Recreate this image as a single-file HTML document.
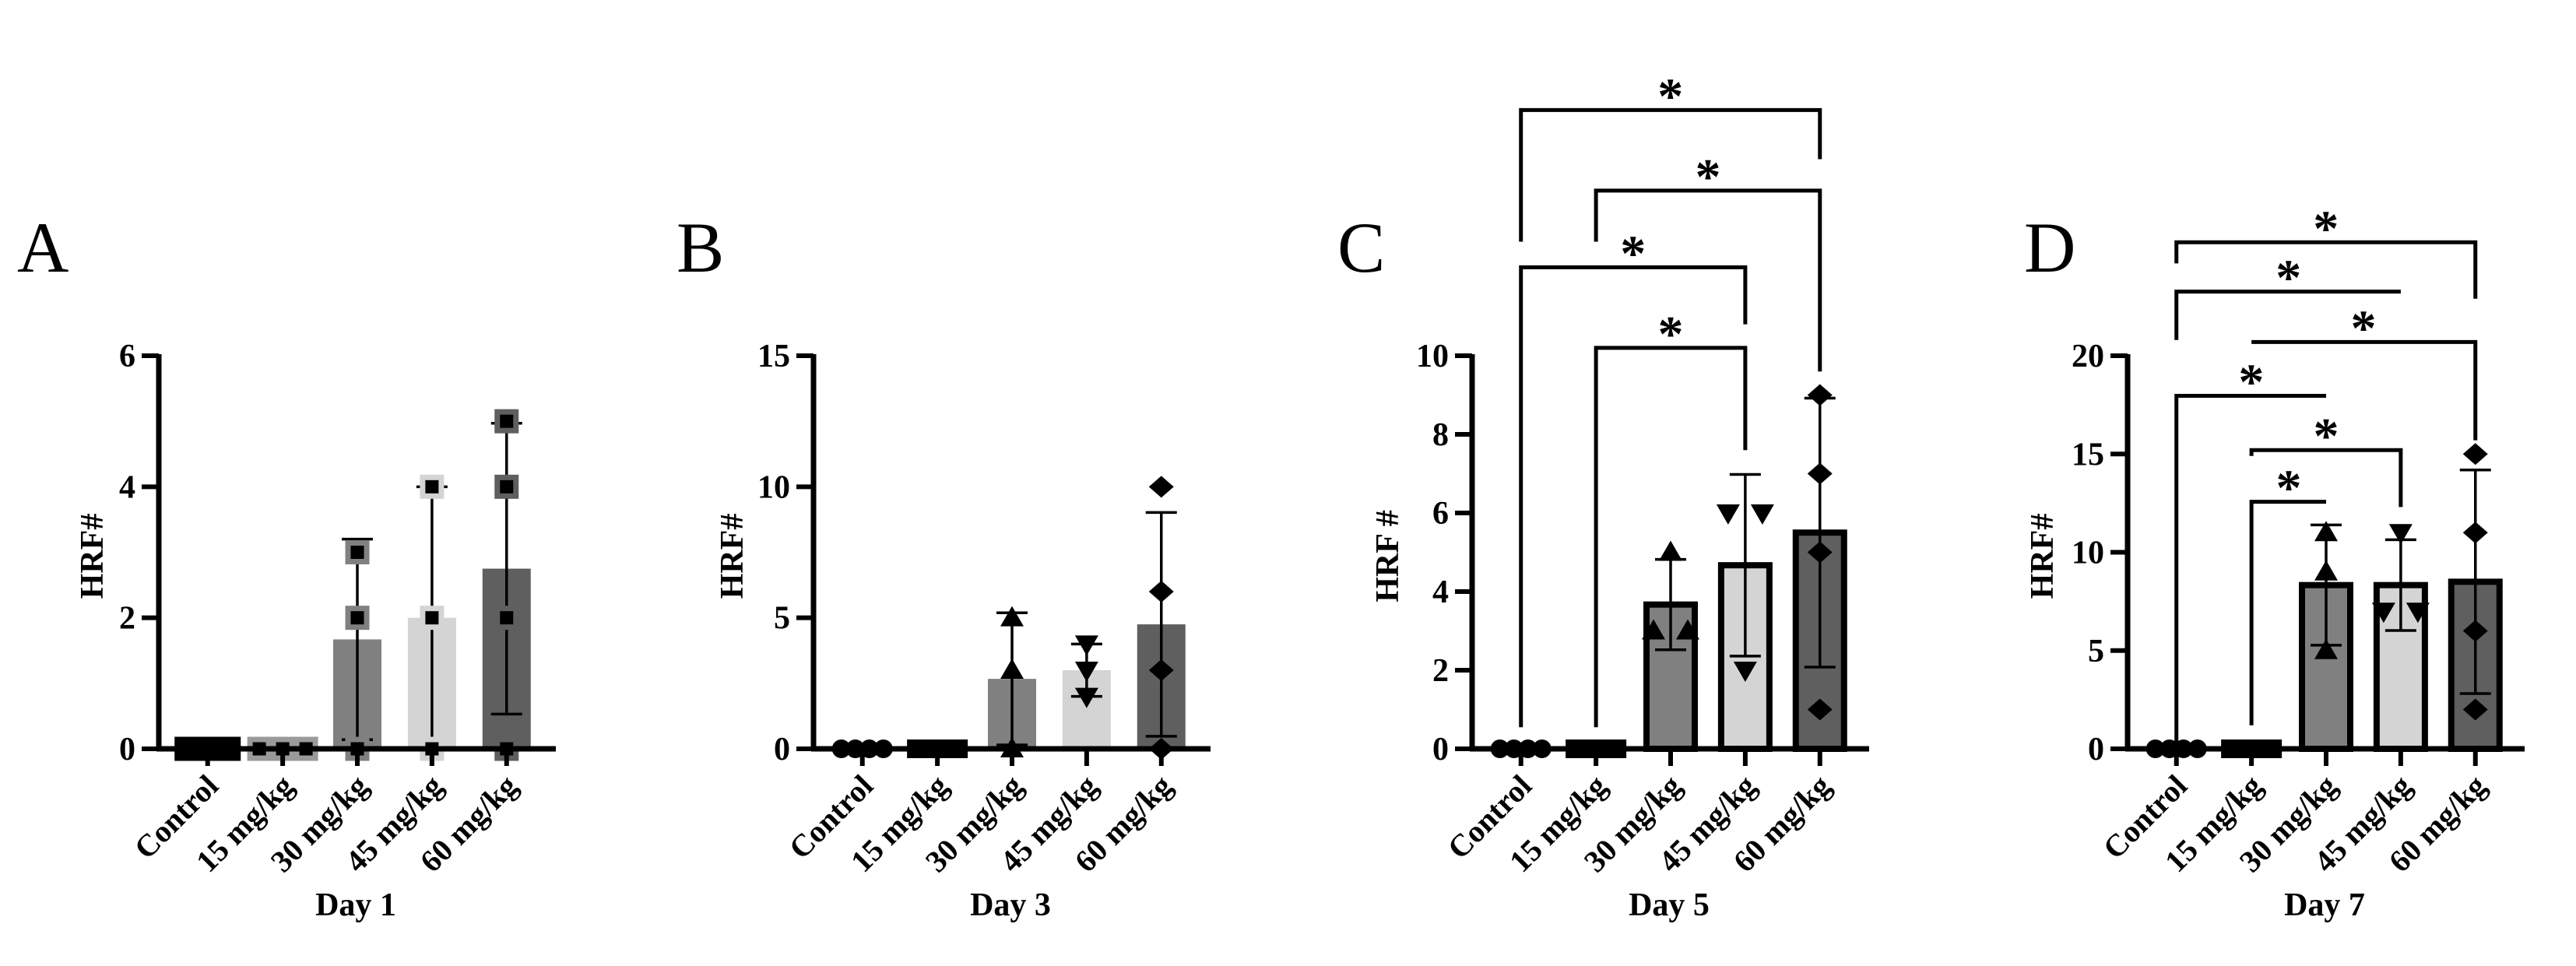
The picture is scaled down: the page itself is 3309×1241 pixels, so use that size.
<!DOCTYPE html>
<html><head><meta charset="utf-8"><style>
html,body{margin:0;padding:0;background:#fff}
svg{display:block}
text{font-family:"Liberation Serif",serif}
</style></head><body>
<svg id="fig" width="3309" height="1241" viewBox="0 0 3309 1241" xmlns="http://www.w3.org/2000/svg"></svg>
<script>
const categories = ["Control","15 mg/kg","30 mg/kg","45 mg/kg","60 mg/kg"];
const panelLetters = ["A","B","C","D"];
const dayLabels = ["Day 1","Day 3","Day 5","Day 7"];
const yMaxA = 6, yMaxB = 15, yMaxC = 10, yMaxD = 20;
const ticksA = [0,2,4,6];
const ticksB = [0,5,10,15];
const ticksC = [0,2,4,6,8,10];
const ticksD = [0,5,10,15,20];
const meansA = [0,0,1.67,2,2.75];
const sdA = [0,0,1.53,2,2.22];
const pointsA = [[0,0,0,0],[0,0,0],[0,2,3],[0,2,4],[0,2,4,5]];
const meansB = [0,0,2.67,3,4.75];
const sdB = [0,0,2.52,1,4.27];
const pointsB = [[0,0,0,0],[0,0,0,0],[0,3,5],[2,3,4],[0,3,6,10]];
const meansC = [0,0,3.67,4.67,5.5];
const sdC = [0,0,1.15,2.31,3.42];
const pointsC = [[0,0,0,0],[0,0,0,0],[3,3,5],[2,6,6],[1,5,7,9]];
const meansD = [0,0,8.33,8.33,8.5];
const sdD = [0,0,3.06,2.31,5.69];
const pointsD = [[0,0,0,0],[0,0,0,0],[5,9,11],[7,7,11],[2,6,11,15]];
// brackets: [fromIdx, toIdx, levelValue, leftLegBottom, rightLegBottom]
const bracketsC = [[0,4,16.25,12.9,15.0],[1,4,14.2,12.9,9.6],[0,3,12.25,0.55,10.8],[1,3,10.2,0.55,7.6]];
const bracketsD = [[0,4,25.77,24.7,22.9],[0,3,23.26,20.8,23.26],[1,4,20.7,20.7,15.7],[0,2,17.96,-0.7,17.96],[1,3,15.2,14.9,12.3],[1,2,12.57,1.2,12.57]];

const NS = "http://www.w3.org/2000/svg";
const svg = document.getElementById("fig");
function mk(tag, attrs, parent){const e=document.createElementNS(NS,tag);for(const k in attrs)e.setAttribute(k,attrs[k]);(parent||svg).appendChild(e);return e;}

const panels = [
 {ax:204, letterX:22, titleOff:86, ymax:yMaxA, ticks:ticksA, means:meansA, sd:sdA, pts:pointsA, outline:false, shapes:["sq","sq","sq","sq","sq"], br:[]},
 {ax:1045, letterX:869, titleOff:105, ymax:yMaxB, ticks:ticksB, means:meansB, sd:sdB, pts:pointsB, outline:false, shapes:["ci","sq","tu","td","di"], br:[]},
 {ax:1891, letterX:1718, titleOff:109, ymax:yMaxC, ticks:ticksC, means:meansC, sd:sdC, pts:pointsC, outline:true, shapes:["ci","sq","tu","td","di"], br:bracketsC},
 {ax:2733, letterX:2600, titleOff:110, ymax:yMaxD, ticks:ticksD, means:meansD, sd:sdD, pts:pointsD, outline:true, shapes:["ci","sq","tu","td","di"], br:bracketsD}
];
const colors = ["#000000","#9a9a9a","#808080","#d4d4d4","#5f5f5f"];
const catFrac = [0.123,0.312,0.5,0.688,0.876];
const Y0 = 962, YTOP = 457, AXLEN = 510;

panels.forEach((p,pi)=>{
  const g = mk("g",{});
  
  
  const ys = v => Y0 - (v/p.ymax)*(Y0-YTOP);
  const xs = i => p.ax + catFrac[i]*AXLEN;
  const lt = mk("text",{x:p.letterX, y:349, "font-size":92, fill:"#000"}, g);
  lt.textContent = panelLetters[pi];
  
  
  p.means.forEach((m,i)=>{
    const bw = 62, x = xs(i)-bw/2;
    let top = ys(m), h = Y0-top;
    if (m===0) return;
    const r = mk("rect",{x:x, y:top, width:bw, height:h, fill:colors[i], stroke:p.outline?"#000":"none", "stroke-width":p.outline?8:0}, g);
    
    
  });
  const ya = mk("line",{x1:p.ax, y1:YTOP-2, x2:p.ax, y2:Y0+3, stroke:"#000","stroke-width":7}, g);
  
  
  p.ticks.forEach(t=>{
    mk("line",{x1:p.ax-22, y1:ys(t), x2:p.ax, y2:ys(t), stroke:"#000","stroke-width":6}, g);
    const tl = mk("text",{x:p.ax-30, y:ys(t)+14, "font-size":42, "font-weight":"bold", "text-anchor":"end"}, g);
    tl.textContent = t;
    
    
  });
  const yt = mk("text",{x:0,y:0,"font-size":42,"font-weight":"bold","text-anchor":"middle",transform:`translate(${p.ax-p.titleOff+14},${(Y0+YTOP)/2+5}) rotate(-90)`}, g);
  yt.textContent = pi===2 ? "HRF #" : "HRF#";
  
  
  p.means.forEach((m,i)=>{
    if (p.sd[i]===0) return;
    const x = xs(i), lo = ys(m-p.sd[i]), hi = ys(m+p.sd[i]);
    mk("line",{x1:x,y1:lo,x2:x,y2:hi,stroke:"#000","stroke-width":3.5}, g);
    mk("line",{x1:x-20,y1:lo,x2:x+20,y2:lo,stroke:"#000","stroke-width":3.5}, g);
    const c = mk("line",{x1:x-20,y1:hi,x2:x+20,y2:hi,stroke:"#000","stroke-width":3.5}, g);
    
    
  });
  p.pts.forEach((arr,i)=>{
    const counts = {};
    arr.forEach(v=>counts[v]=(counts[v]||0)+1);
    const seen = {};
    arr.forEach(v=>{
      const n = counts[v], k = (seen[v]=(seen[v]||0)+1)-1;
      const dx = v===0 ? (n>=4?18:30) : 44;
      const x = xs(i) + (k-(n-1)/2)*dx, y = ys(v);
      const sh = p.shapes[i];
      let e;
      if (sh==="sq") e = mk("rect",{x:x-12,y:y-12,width:24,height:24,fill:"#000",stroke:pi===0?colors[i]:"#000","stroke-width":pi===0?7:0}, g);
      else if (sh==="ci") e = mk("circle",{cx:x,cy:y,r:12,fill:"#000"}, g);
      else if (sh==="tu") e = mk("polygon",{points:`${x},${y-15} ${x-15},${y+11} ${x+15},${y+11}`,fill:"#000"}, g);
      else if (sh==="td") e = mk("polygon",{points:`${x},${y+15} ${x-15},${y-11} ${x+15},${y-11}`,fill:"#000"}, g);
      else e = mk("polygon",{points:`${x},${y-14} ${x+16},${y} ${x},${y+14} ${x-16},${y}`,fill:"#000"}, g);
      
      
    });
  });
  const xa = mk("line",{x1:p.ax-3, y1:Y0, x2:p.ax+AXLEN, y2:Y0, stroke:"#000","stroke-width":7}, g);
  
  
  categories.forEach((c,i)=>{
    mk("line",{x1:xs(i),y1:Y0,x2:xs(i),y2:Y0+22,stroke:"#000","stroke-width":6}, g);
    const xl = mk("text",{x:0,y:0,"font-size":40,"font-weight":"bold","text-anchor":"end",transform:`translate(${xs(i)+16},${Y0+50}) rotate(-45)`}, g);
    xl.textContent = c;
    
    
  });
  const dl = mk("text",{x:p.ax+AXLEN/2-2, y:1176, "font-size":42, "font-weight":"bold","text-anchor":"middle"}, g);
  dl.textContent = dayLabels[pi];
  
  
  p.br.forEach(b=>{
    const x1 = xs(b[0]), x2 = xs(b[1]), yl = ys(b[2]);
    const pl = mk("polyline",{points:`${x1},${ys(b[3])} ${x1},${yl} ${x2},${yl} ${x2},${ys(b[4])}`,fill:"none",stroke:"#000","stroke-width":5}, g);
    
    
    const st = mk("text",{x:(x1+x2)/2, y:yl+4, "font-size":66, "font-weight":"bold","text-anchor":"middle"}, g);
    st.textContent = "*";
    
    
  });
});
</script>
</body></html>
